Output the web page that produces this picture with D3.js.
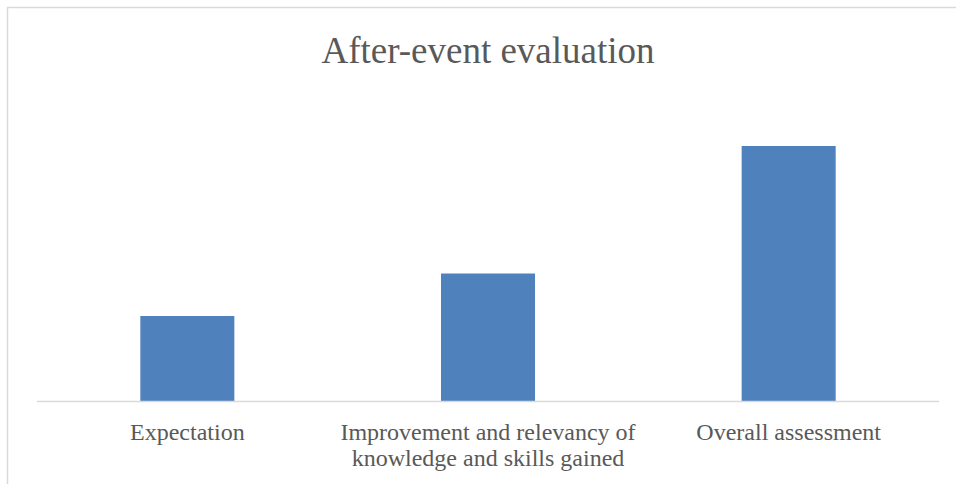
<!DOCTYPE html>
<html><head><meta charset="utf-8">
<script src="https://cdn.jsdelivr.net/npm/d3@7"></script>
<style>body{margin:0;background:#fff}svg{display:block}</style>
</head><body>
<script>
const categories = ["Expectation", "Improvement and relevancy of knowledge and skills gained", "Overall assessment"];
const categoryLines = [["Expectation"], ["Improvement and relevancy of", "knowledge and skills gained"], ["Overall assessment"]];
const values = [2, 3, 6];
const title = "After-event evaluation";

const W = 956, H = 484;
const svg = d3.select("body").append("svg").attr("width", W).attr("height", H);

// outer chart border
svg.append("rect").attr("x", 7.5).attr("y", 7.5).attr("width", W + 20).attr("height", H + 20)
  .attr("fill", "#fff").attr("stroke", "#d9d9d9").attr("stroke-width", 1.5);

const left = 37, right = 939, base = 401;
const x = d3.scaleBand().domain(categories).range([left, right]).padding(0);
const y = d3.scaleLinear().domain([0, 7]).range([base, base - 297.5]);
const barW = x.bandwidth() * 0.3127;

svg.selectAll("rect.bar").data(values).join("rect").attr("class", "bar")
  .attr("x", (d, i) => x(categories[i]) + x.bandwidth() / 2 - barW / 2)
  .attr("y", d => y(d)).attr("width", barW).attr("height", d => y(0) - y(d))
  .attr("fill", "#4f81bd");

svg.append("line").attr("x1", left).attr("x2", right).attr("y1", base + 0.5).attr("y2", base + 0.5)
  .attr("stroke", "#d9d9d9").attr("stroke-width", 1.5);

const labels = svg.selectAll("text.lab").data(categories).join("text").attr("class", "lab")
  .attr("x", d => x(d) + x.bandwidth() / 2).attr("y", 440)
  .attr("text-anchor", "middle").attr("font-family", "'Liberation Serif', 'Times New Roman', serif")
  .attr("font-size", 24).attr("fill", "#595959");
labels.each(function(d, i) {
  d3.select(this).selectAll("tspan").data(categoryLines[i]).join("tspan")
    .attr("x", x(d) + x.bandwidth() / 2).attr("dy", (t, j) => j === 0 ? 0 : 26).text(t => t);
});

svg.append("text").attr("x", 488).attr("y", 63).attr("text-anchor", "middle")
  .attr("font-family", "'Liberation Serif', 'Times New Roman', serif").attr("font-size", 37)
  .attr("fill", "#595959").text(title);
</script>
</body></html>
